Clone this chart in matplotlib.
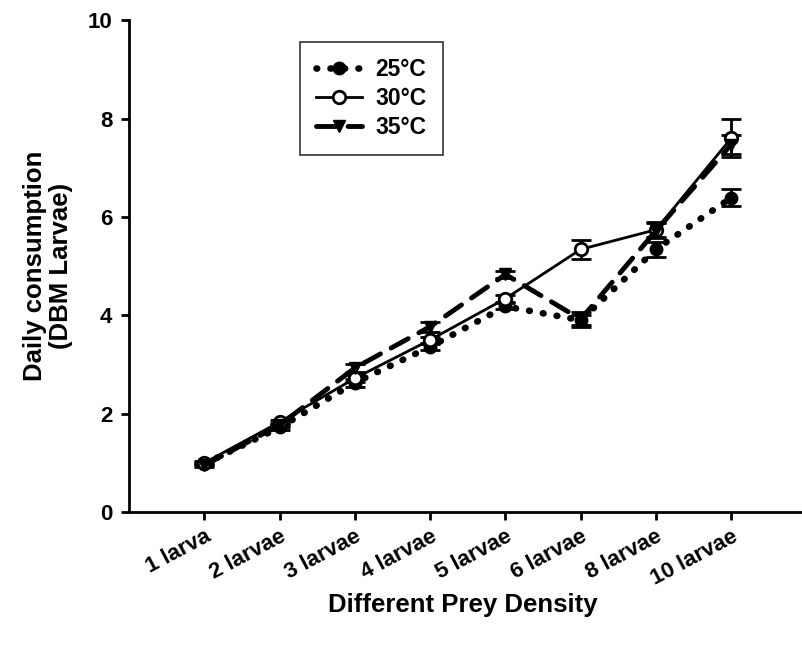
import numpy as np
import matplotlib
matplotlib.use('Agg')
import matplotlib.pyplot as plt

plt.rcParams['font.family'] = ['Liberation Sans', 'DejaVu Sans']
plt.rcParams['font.weight'] = 'bold'

# данные
categories = ['1 larva', '2 larvae', '3 larvae', '4 larvae',
              '5 larvae', '6 larvae', '8 larvae', '10 larvae']
t25 = [0.98, 1.72, 2.63, 3.36, 4.18, 3.90, 5.34, 6.39]
t25_err = [0.03, 0.05, 0.08, 0.06, 0.06, 0.10, 0.15, 0.17]
t30 = [1.00, 1.83, 2.72, 3.50, 4.34, 5.34, 5.74, 7.60]
t30_err = [0.03, 0.05, 0.07, 0.06, 0.08, 0.20, 0.15, 0.38]
t35 = [0.95, 1.77, 2.93, 3.77, 4.83, 3.92, 5.72, 7.47]
t35_err = [0.03, 0.05, 0.08, 0.10, 0.08, 0.15, 0.15, 0.20]

x = np.arange(len(categories))

fig = plt.figure(figsize=(8.02, 6.49), dpi=100)
ax = fig.add_axes([0.161, 0.211, 0.839, 0.758])

common = dict(ecolor='black', elinewidth=2, capsize=7, capthick=2,
              color='black', markersize=9)

e25 = ax.errorbar(x, t25, yerr=t25_err, fmt='o', linestyle=(0, (0.1, 2.0)),
                  linewidth=4.8, label='25°C', **common)
e30 = ax.errorbar(x, t30, yerr=t30_err, fmt='o', linestyle='-', linewidth=2,
                  markerfacecolor='white', markeredgewidth=2, label='30°C', **common)
e35 = ax.errorbar(x, t35, yerr=t35_err, fmt='v', linestyle=(0, (4, 2.5)),
                  linewidth=3.5, label='35°C', **common)

for ln in ax.get_lines():
    ln.set_dash_capstyle('round')

ax.set_xlim(-1, 7.94)
ax.set_ylim(0, 10)
ax.set_yticks([0, 2, 4, 6, 8, 10])
ax.set_xticks(x)
ax.set_xticklabels(categories, rotation=28, ha='right', rotation_mode='anchor')

for s in ['top', 'right']:
    ax.spines[s].set_visible(False)
for s in ['left', 'bottom']:
    ax.spines[s].set_linewidth(2)
ax.tick_params(direction='out', length=6, width=2, labelsize=16, pad=6)
ax.tick_params(axis='x', pad=4)
for lab in ax.get_xticklabels() + ax.get_yticklabels():
    lab.set_fontweight('bold')

ax.set_xlabel('Different Prey Density', fontsize=18.5, fontweight='bold')
ax.xaxis.set_label_coords(0.496, -0.189)
ax.xaxis.label.set_verticalalignment('center')
ax.set_ylabel('Daily consumption\n(DBM Larvae)', fontsize=18.5, fontweight='bold',
              linespacing=1.1)
ax.yaxis.set_label_coords(-0.12, 0.5)
ax.yaxis.label.set_verticalalignment('center')

handles = [e25[0], e30[0], e35[0]]
leg = ax.legend(handles, ['25°C', '30°C', '35°C'], loc='upper left',
                bbox_to_anchor=(0.254, 0.955), borderaxespad=0, frameon=True,
                fancybox=False, edgecolor='black', fontsize=16.5, handlelength=2.0,
                borderpad=0.7, labelspacing=0.25, handletextpad=0.6)
leg.get_frame().set_linewidth(1.2)
for t in leg.get_texts():
    t.set_fontweight('bold')

fig.savefig('out.png', dpi=100)
